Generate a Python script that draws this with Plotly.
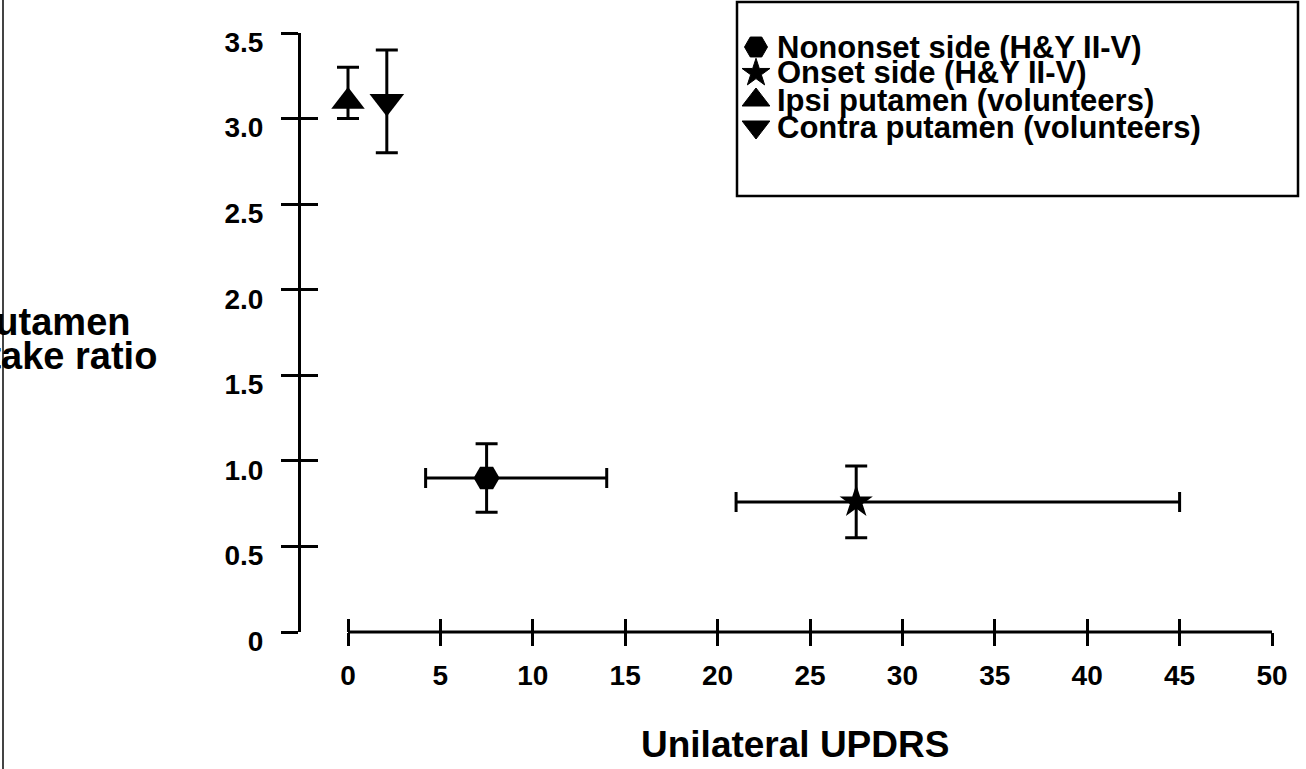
# Putamen uptake ratio vs unilateral UPDRS, scatter with error bars
import plotly.graph_objects as go

# data
series = ["Nononset side (H&Y II-V)", "Onset side (H&Y II-V)",
          "Ipsi putamen (volunteers)", "Contra putamen (volunteers)"]
updrs = [7.5, 27.5, 0.0, 2.1]
updrs_minus = [3.3, 6.5, 0.0, 0.0]
updrs_plus = [6.5, 17.5, 0.0, 0.0]
ratio = [0.9, 0.76, 3.1, 3.1]
ratio_plus = [0.2, 0.21, 0.2, 0.3]
ratio_minus = [0.2, 0.21, 0.1, 0.3]
x_ticks = [0, 5, 10, 15, 20, 25, 30, 35, 40, 45, 50]
y_ticks = [0, 0.5, 1.0, 1.5, 2.0, 2.5, 3.0, 3.5]
y_ticktext = ["0", "0.5", "1.0", "1.5", "2.0", "2.5", "3.0", "3.5"]

symbols = ["hexagon2", "star", "triangle-up", "triangle-down"]
sizes = [26, 25, 29, 30]
FONT = "Liberation Sans, Arial, Helvetica, sans-serif"

# plot box in pixels (y axis line at L, x = 0 at X0, x = 50 at R)
L, X0, R, T, B = 301, 348, 1272, 33, 632
W, H = R - L, B - T
x_lo = -(X0 - L) * 50 / (R - X0)


def px_x(p):
    return (p - L) / W


def px_y(p):
    return (B - p) / H


fig = go.Figure()

for i, name in enumerate(series):
    has_x = updrs_plus[i] > 0
    fig.add_trace(go.Scatter(
        x=[updrs[i]], y=[ratio[i]], mode="markers", name=name,
        marker=dict(symbol=symbols[i], size=sizes[i], color="black"),
        error_y=dict(type="data", symmetric=False, array=[ratio_plus[i]],
                     arrayminus=[ratio_minus[i]], color="black",
                     thickness=3, width=11),
        error_x=dict(type="data", symmetric=False, array=[updrs_plus[i]],
                     arrayminus=[updrs_minus[i]], color="black",
                     thickness=3, width=10, visible=has_x),
        cliponaxis=False, showlegend=False,
    ))

# inside half of the crossing ticks
fig.add_trace(go.Scatter(x=[], y=[], xaxis="x3", yaxis="y3", showlegend=False))

# hand-made legend: symbols on a pixel-scaled overlay axis, labels as annotations
leg_rows = [47, 73, 100, 127]
fig.add_trace(go.Scatter(
    x=[756] * 4, y=leg_rows, xaxis="x2", yaxis="y2", mode="markers",
    marker=dict(symbol=symbols, size=[23, 21, 24, 24], color="black",
                opacity=1, line=dict(color="black", width=1)),
    showlegend=False, hoverinfo="skip",
))

annotations = []
for name, yy in zip(series, leg_rows):
    annotations.append(dict(
        text=name, xref="paper", yref="paper", x=px_x(775), y=px_y(yy),
        xanchor="left", yanchor="middle", showarrow=False,
        font=dict(family=FONT, size=31, color="black", weight="bold"),
    ))

annotations.append(dict(
    text="Unilateral UPDRS", xref="paper", yref="paper",
    x=px_x(795), y=px_y(744), xanchor="center", yanchor="middle",
    showarrow=False, font=dict(family=FONT, size=37, color="black", weight="bold"),
))
for txt, yy in [("Putamen", 322), ("uptake ratio", 356)]:
    annotations.append(dict(
        text=txt, xref="paper", yref="paper", x=px_x(50), y=px_y(yy),
        xanchor="center", yanchor="middle", showarrow=False,
        font=dict(family=FONT, size=38, color="black", weight="bold"),
    ))

shapes = [
    # x axis line only spans the 0-50 range
    dict(type="line", xref="x", yref="paper", x0=0, x1=50, y0=0, y1=0,
         line=dict(color="black", width=3)),
    dict(type="rect", xref="paper", yref="paper",
         x0=px_x(737), x1=px_x(1298), y0=px_y(2), y1=px_y(196),
         line=dict(color="black", width=2.5), fillcolor="rgba(0,0,0,0)"),
    dict(type="line", xref="paper", yref="paper",
         x0=px_x(3), x1=px_x(3), y0=px_y(0), y1=px_y(769),
         line=dict(color="#444444", width=2)),
]

tick_font = dict(family=FONT, size=28, color="black", weight="bold")

fig.update_layout(
    width=1306, height=769,
    margin=dict(l=L, r=1306 - R, t=T, b=769 - B, pad=0),
    paper_bgcolor="white", plot_bgcolor="white",
    font=dict(family=FONT, color="black"),
    showlegend=False,
    xaxis=dict(domain=[0, 1], range=[x_lo, 50], anchor="y",
               tickvals=x_ticks, showline=False,
               ticks="outside", ticklen=13, tickwidth=3, tickcolor="black",
               showgrid=False, zeroline=False, tickfont=tick_font,
               ticklabelstandoff=5),
    yaxis=dict(domain=[0, 1], range=[0, 3.5], anchor="x",
               tickvals=y_ticks, ticktext=y_ticktext, showline=True,
               linewidth=3, linecolor="black", ticks="outside", ticklen=17,
               tickwidth=3, tickcolor="black", showgrid=False, zeroline=False,
               tickfont=tick_font, ticklabelstandoff=12, ticklabelshift=9),
    xaxis3=dict(overlaying="x", range=[x_lo, 50], anchor="y3", tickvals=x_ticks,
                ticks="inside", ticklen=13, tickwidth=3, tickcolor="black",
                showticklabels=False, showline=False, showgrid=False,
                zeroline=False),
    yaxis3=dict(overlaying="y", range=[0, 3.5], anchor="x3",
                tickvals=y_ticks, ticks="inside", ticklen=17, tickwidth=3,
                tickcolor="black", showticklabels=False, showline=False,
                showgrid=False, zeroline=False),
    xaxis2=dict(overlaying="x", range=[L, R], visible=False, anchor="y2"),
    yaxis2=dict(overlaying="y", range=[B, T], visible=False, anchor="x2"),
    annotations=annotations,
    shapes=shapes,
)

fig.write_html("out.html", config={"displayModeBar": False},
               post_script="document.body.style.margin='0px';")
